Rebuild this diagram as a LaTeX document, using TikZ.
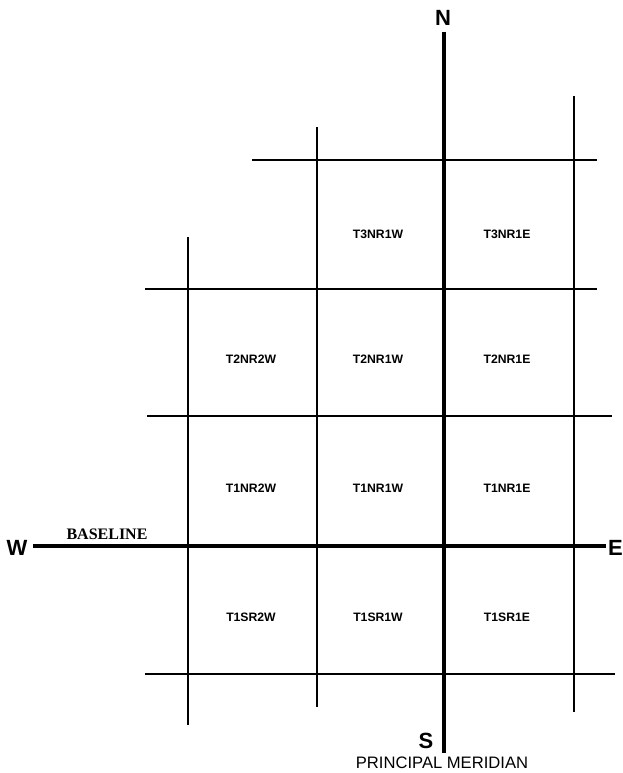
\documentclass[tikz,border=0pt]{standalone}
\usepackage{fontspec}
\setmainfont{Liberation Sans}
\newfontfamily\serifbl{Liberation Serif}
\begin{document}
\begin{tikzpicture}[x=1pt,y=-1pt,
  grid/.style={line width=2.4pt},
  main/.style={line width=4.2pt},
  dir/.style={font=\fontsize{22}{22}\selectfont\bfseries, inner sep=0pt},
  cell/.style={font=\fontsize{12.2}{12}\selectfont\bfseries, inner sep=0pt}]
\useasboundingbox (0,0) rectangle (622,773);
% vertical lines
\draw[grid] (188,237) -- (188,725);
\draw[grid] (317,127) -- (317,707);
\draw[grid] (574,96) -- (574,712);
\draw[main] (444,32) -- (444,753);
% horizontal lines
\draw[grid] (252,160) -- (597,160);
\draw[grid] (145,289) -- (597,289);
\draw[grid] (147,416) -- (612,416);
\draw[grid] (145,674) -- (615,674);
\draw[main] (33,546) -- (606,546);
% direction letters
\node[dir] (N) at (443,18) {N};
\node[dir] (S) at (426,741) {S};
\node[dir] (W) at (17,548) {W};
\node[dir,anchor=west] (E) at (608,548) {E};
\node[font=\serifbl\fontsize{16}{16}\selectfont\bfseries, inner sep=0pt] (BL) at (107,534) {BASELINE};
\node[font=\fontsize{16.6}{16}\selectfont, inner sep=0pt] (PM) at (442,763) {PRINCIPAL MERIDIAN};
% cell labels
\node[cell] (a1) at (378,234) {T3NR1W};
\node[cell] (a2) at (507,234) {T3NR1E};
\node[cell] (b0) at (251,359) {T2NR2W};
\node[cell] (b1) at (378,359) {T2NR1W};
\node[cell] (b2) at (507,359) {T2NR1E};
\node[cell] (c0) at (251,488) {T1NR2W};
\node[cell] (c1) at (378,488) {T1NR1W};
\node[cell] (c2) at (507,488) {T1NR1E};
\node[cell] (d0) at (251,617) {T1SR2W};
\node[cell] (d1) at (378,617) {T1SR1W};
\node[cell] (d2) at (507,617) {T1SR1E};
\end{tikzpicture}
\end{document}
